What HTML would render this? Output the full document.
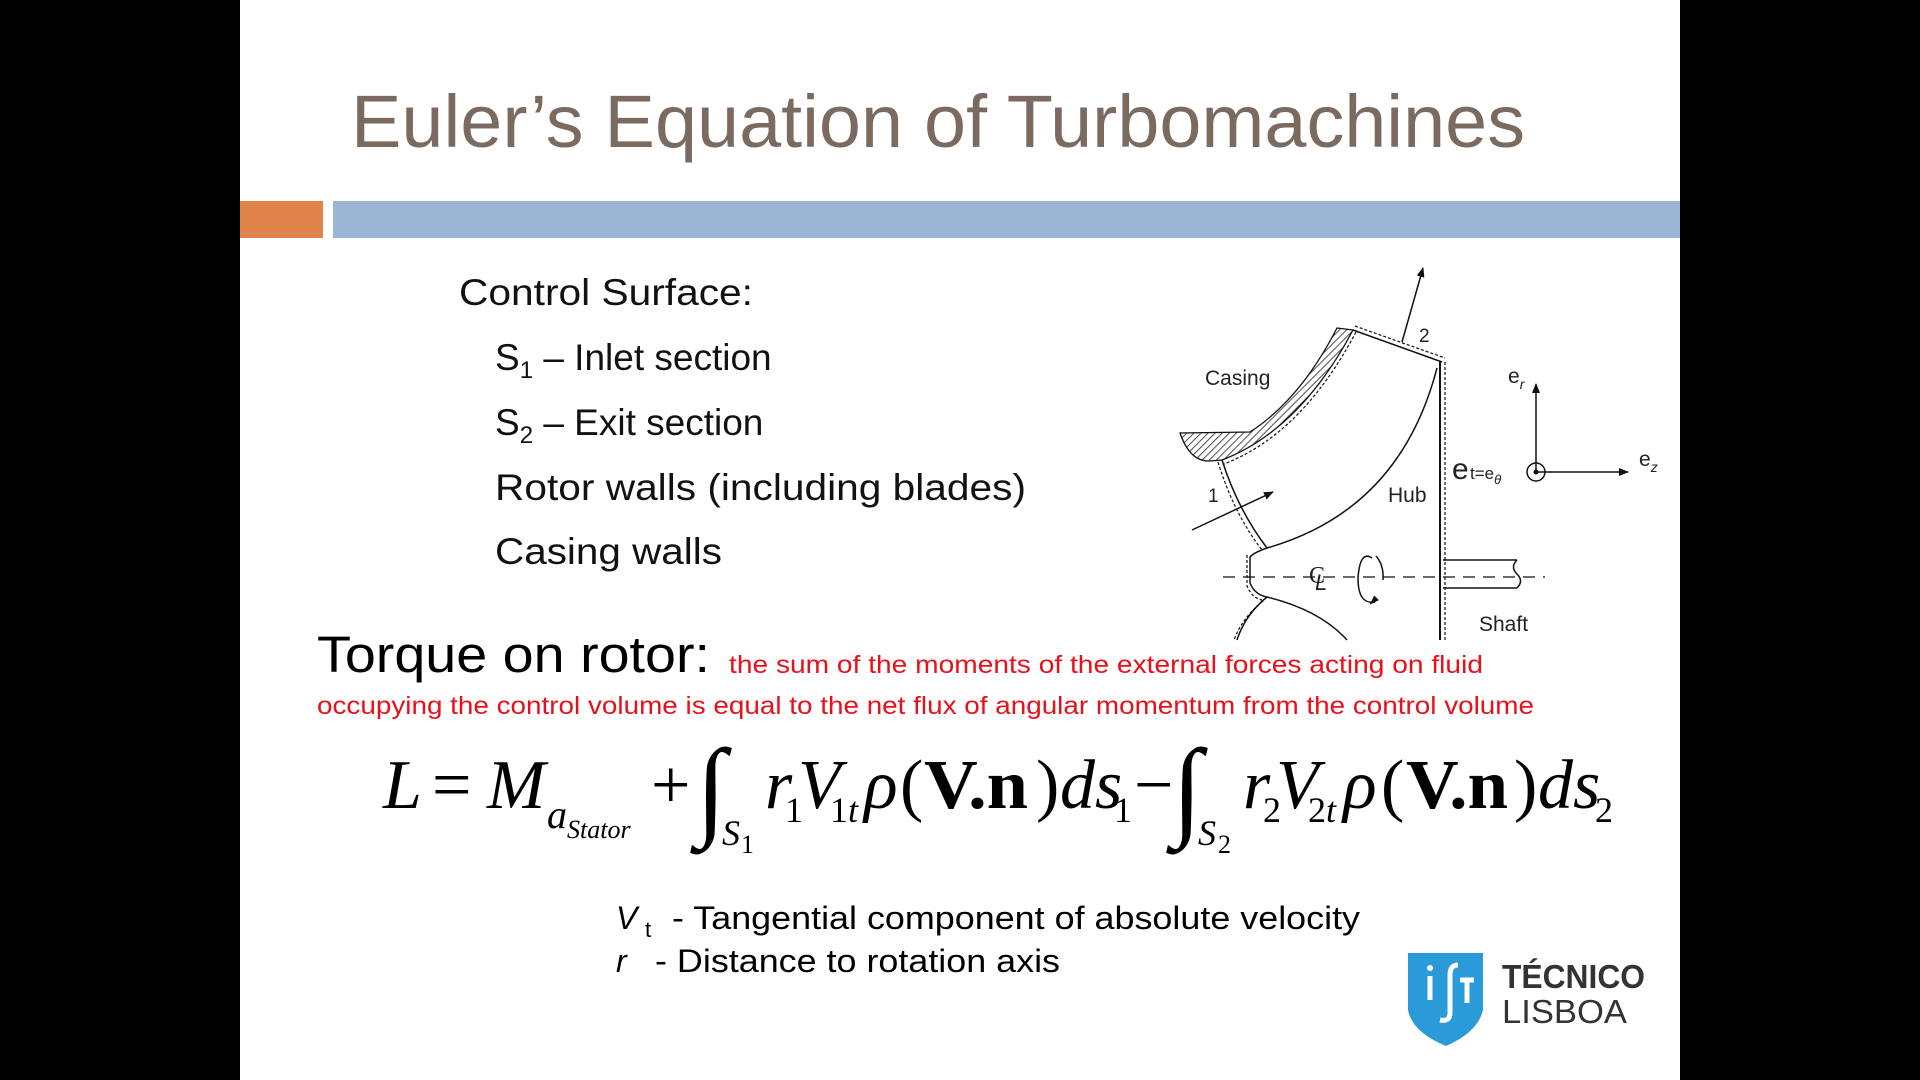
<!DOCTYPE html>
<html><head><meta charset="utf-8"><style>
html,body{margin:0;padding:0;background:#000;}
svg{display:block}
</style></head><body>
<svg width="1920" height="1080" viewBox="0 0 1920 1080" xmlns="http://www.w3.org/2000/svg">
<rect x="0" y="0" width="1920" height="1080" fill="#000"/>
<rect x="240" y="0" width="1440" height="1080" fill="#fff"/>
<text x="351" y="147" font-family="Liberation Sans, sans-serif" font-size="74" fill="#7b6a60" textLength="1174" lengthAdjust="spacingAndGlyphs">Euler’s Equation of Turbomachines</text>
<rect x="240" y="201" width="83" height="37" fill="#e0844c"/>
<rect x="333" y="201" width="1347" height="37" fill="#9ab6d4"/>

<g font-family="Liberation Sans, sans-serif" font-size="37" fill="#111">
<text x="459" y="305" textLength="294" lengthAdjust="spacingAndGlyphs">Control Surface:</text>
<text x="495" y="370">S<tspan font-size="24" dy="8">1</tspan><tspan dy="-8"> – Inlet section</tspan></text>
<text x="495" y="435">S<tspan font-size="24" dy="8">2</tspan><tspan dy="-8"> – Exit section</tspan></text>
<text x="495" y="500" textLength="531" lengthAdjust="spacingAndGlyphs">Rotor walls (including blades)</text>
<text x="495" y="564" textLength="227" lengthAdjust="spacingAndGlyphs">Casing walls</text>
</g>

<text x="317" y="672" font-family="Liberation Sans, sans-serif" font-size="51" fill="#000" textLength="393" lengthAdjust="spacingAndGlyphs">Torque on rotor:</text>
<text x="729" y="673" font-family="Liberation Sans, sans-serif" font-size="25" fill="#e8101a" textLength="754" lengthAdjust="spacingAndGlyphs">the sum of  the moments of the external forces acting on fluid</text>
<text x="317" y="714" font-family="Liberation Sans, sans-serif" font-size="25" fill="#e8101a" textLength="1217" lengthAdjust="spacingAndGlyphs">occupying the control volume is equal to the net flux of angular momentum from the control volume</text>

<g font-family="Liberation Serif, serif" font-size="70" fill="#000">
<text x="383" y="808" font-style="italic">L</text>
<text x="432" y="808">=</text>
<text x="487" y="808" font-style="italic">M</text>
<text x="547" y="828" font-style="italic" font-size="40">a</text>
<text x="567" y="838" font-style="italic" font-size="26">Stator</text>
<text x="651" y="808">+</text>
<text x="696" y="825" font-size="110">∫</text>
<text x="722" y="845" font-style="italic" font-size="36">S</text><text x="741" y="853" font-size="26">1</text>
<text x="765" y="808" font-style="italic">r</text><text x="785" y="822" font-size="36">1</text>
<text x="798" y="808" font-style="italic">V</text><text x="830" y="822" font-size="36">1</text><text x="848" y="822" font-size="36" font-style="italic">t</text>
<text x="864" y="808" font-style="italic">ρ</text>
<text x="900" y="808">(</text>
<text x="924" y="808" font-weight="bold" textLength="104" lengthAdjust="spacingAndGlyphs">V.n</text>
<text x="1036" y="808">)</text>
<text x="1060" y="808" font-style="italic">ds</text><text x="1114" y="822" font-size="36">1</text>
<text x="1134" y="808">−</text>
<text x="1172" y="825" font-size="110">∫</text>
<text x="1198" y="845" font-style="italic" font-size="36">S</text><text x="1218" y="853" font-size="26">2</text>
<text x="1243" y="808" font-style="italic">r</text><text x="1263" y="822" font-size="36">2</text>
<text x="1276" y="808" font-style="italic">V</text><text x="1308" y="822" font-size="36">2</text><text x="1326" y="822" font-size="36" font-style="italic">t</text>
<text x="1343" y="808" font-style="italic">ρ</text>
<text x="1381" y="808">(</text>
<text x="1406" y="808" font-weight="bold" textLength="102" lengthAdjust="spacingAndGlyphs">V.n</text>
<text x="1514" y="808">)</text>
<text x="1538" y="808" font-style="italic">ds</text><text x="1595" y="822" font-size="36">2</text>
</g>

<g font-family="Liberation Sans, sans-serif" font-size="32" fill="#000">
<text x="616" y="929" font-style="italic">V</text>
<text x="645" y="937" font-size="22">t</text>
<text x="672" y="929" textLength="688" lengthAdjust="spacingAndGlyphs">- Tangential component of absolute velocity</text>
<text x="616" y="972" font-style="italic">r</text>
<text x="655" y="972" textLength="405" lengthAdjust="spacingAndGlyphs">- Distance to rotation axis</text>
</g>

<defs>
<pattern id="hatch" patternUnits="userSpaceOnUse" width="5" height="5" patternTransform="rotate(45)">
<rect width="5" height="5" fill="#fff"/><line x1="0" y1="0" x2="0" y2="5" stroke="#222" stroke-width="1.6"/>
</pattern>
<marker id="ah" markerWidth="10" markerHeight="8" refX="9" refY="4" orient="auto" markerUnits="userSpaceOnUse"><path d="M0,0 L10,4 L0,8 z" fill="#111"/></marker>
</defs>
<g fill="none" stroke="#111" stroke-width="1.5">
<path d="M1337,328 L1353,330 Q1300,430 1222,460 L1210,461 Q1190,462 1180,433 L1250,432 Q1300,400 1337,328 Z" fill="url(#hatch)" stroke-width="1.3"/>
<path d="M1356,332 Q1302,434 1224,464" stroke-dasharray="3,2" stroke-width="1.2"/>
<path d="M1353,330 L1442,362" />
<path d="M1355,326 L1445,358" stroke-dasharray="3,2" stroke-width="1.2"/>
<path d="M1440,362 L1440,640" stroke-width="2"/>
<path d="M1445,362 L1445,640" stroke-dasharray="3,2" stroke-width="1.2"/>
<path d="M1222,460 Q1238,510 1267,548"/>
<path d="M1218,462 Q1234,514 1262,550" stroke-dasharray="3,2" stroke-width="1.2"/>
<path d="M1437,368 Q1400,510 1267,548 Q1253,553 1250,557 L1250,583 Q1255,595 1267,597 Q1320,610 1347,640"/>
<path d="M1247,555 L1247,586 Q1252,598 1262,600" stroke-dasharray="3,2" stroke-width="1.2"/>
<path d="M1267,597 Q1245,615 1237,640"/>
<path d="M1263,601 Q1242,618 1234,640" stroke-dasharray="3,2" stroke-width="1.2"/>
<path d="M1223,577 L1545,577" stroke-dasharray="12,8" stroke-width="1.2"/>
<path d="M1443,560 L1517,560 M1443,588 L1517,588 M1517,560 Q1510,567 1517,574 Q1524,581 1517,588"/>
<path d="M1372,558 Q1360,550 1358,578 Q1358,605 1375,602" />
<path d="M1376,556 Q1384,565 1383,580" />
<path d="M1370,604 L1378,600 L1374,596" fill="#111" stroke-width="1"/>
<path d="M1402,342 L1423,268" marker-end="url(#ah)"/>
<path d="M1192,530 L1273,492" marker-end="url(#ah)"/>
<path d="M1536,472 L1536,384" marker-end="url(#ah)"/>
<path d="M1536,472 L1628,472" marker-end="url(#ah)"/>
<circle cx="1536" cy="472" r="9"/>
</g>
<circle cx="1536" cy="472" r="2.5" fill="#111"/>
<g font-family="Liberation Sans, sans-serif" font-size="21" fill="#222">
<text x="1205" y="385">Casing</text>
<text x="1208" y="502" font-size="19">1</text>
<text x="1419" y="342" font-size="19">2</text>
<text x="1388" y="502">Hub</text>
<text x="1479" y="631">Shaft</text>
<text x="1508" y="383">e<tspan font-size="14" font-style="italic" dy="6">r</tspan></text>
<text x="1639" y="466">e<tspan font-size="14" font-style="italic" dy="6">z</tspan></text>
<text x="1452" y="479" font-size="30">e</text>
<text x="1470" y="479" font-size="17">t=e<tspan font-size="13" font-style="italic" dy="5">θ</tspan></text>
<text x="1309" y="583" font-size="24" font-family="Liberation Serif, serif">C</text>
<text x="1315" y="590" font-size="22" font-style="italic">L</text>
</g>

<path d="M1408,953 L1483,953 L1483,1010 Q1478,1032 1446,1046 Q1412,1032 1408,1010 Z" fill="#2a9ad8"/>
<g stroke="#fff" stroke-width="5" fill="none">
<path d="M1430,976 L1430,1000"/>
<path d="M1450,975 Q1450,965 1458,965"/>
<path d="M1450,975 L1450,1013 Q1450,1022 1440,1020"/>
<path d="M1467,978 L1467,1003 M1460,980 L1474,980"/>
</g>
<circle cx="1430" cy="968" r="3" fill="#fff"/>
<text x="1502" y="988" font-family="Liberation Sans, sans-serif" font-weight="bold" font-size="33" fill="#333" textLength="143" lengthAdjust="spacingAndGlyphs">TÉCNICO</text>
<text x="1502" y="1023" font-family="Liberation Sans, sans-serif" font-size="33" fill="#333" textLength="125" lengthAdjust="spacingAndGlyphs">LISBOA</text>
</svg>
</body></html>
